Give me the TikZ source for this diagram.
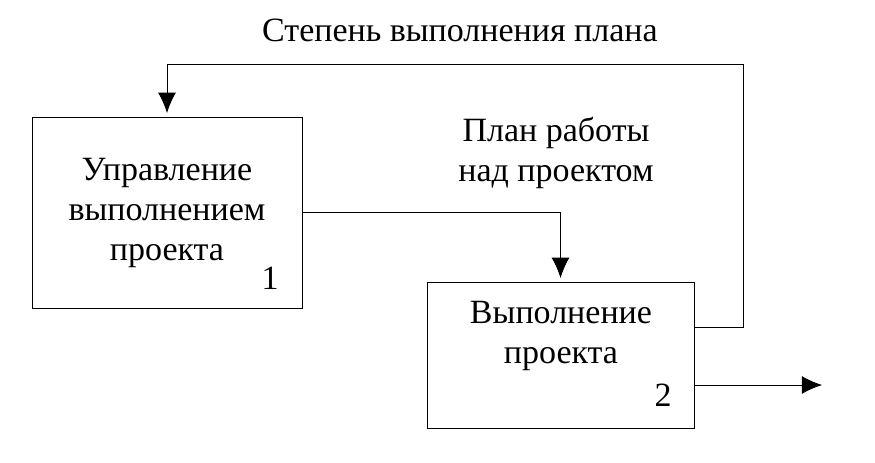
\documentclass[tikz,border=0pt]{standalone}
\usepackage{fontspec}
\setmainfont{Liberation Serif}
\usetikzlibrary{arrows.meta}

\begin{document}
\begin{tikzpicture}[x=0.5pt, y=-0.5pt]
\tikzset{ >={Latex[length=12pt,width=10.5pt]}, line width=1.2pt,
  font=\fontsize{17}{20}\selectfont,
  blok/.style={draw, rectangle, inner sep=0pt},
  txt/.style={align=center, inner sep=0pt}, }

\useasboundingbox (0,0) rectangle (875,462);

%\draw [lightgray, dashed](0,0) grid [step=50] (875,462);

% blocks
\node [blok, minimum width=135pt, minimum height=95.5pt] (U) at (167,212.5) {};
\node [blok, minimum width=133.5pt, minimum height=73pt] (V) at (560.5,355) {};

\node [txt] (Ut) at (167,213) {Управление\\выполнением\\проекта};
\node [txt] (Vt) at (561,336) {Выполнение\\проекта};
\node [txt] (N1) at (270,278) {1};
\node [txt] (N2) at (663,395) {2};

\node [txt] (Plan) at (556,153) {План работы\\над проектом};
\node [txt] (Step) at (460,30) {Степень выполнения плана};

\coordinate (C1) at (743,64);
\coordinate (Out) at (825,385);

\draw [->] (U.east) -| (V.north);
\draw [->] ([yshift=14pt]V.east) -| (C1) -| (U.north);
\draw [->] (V.east |- Out) -- (Out);

\end{tikzpicture}
\end{document}
